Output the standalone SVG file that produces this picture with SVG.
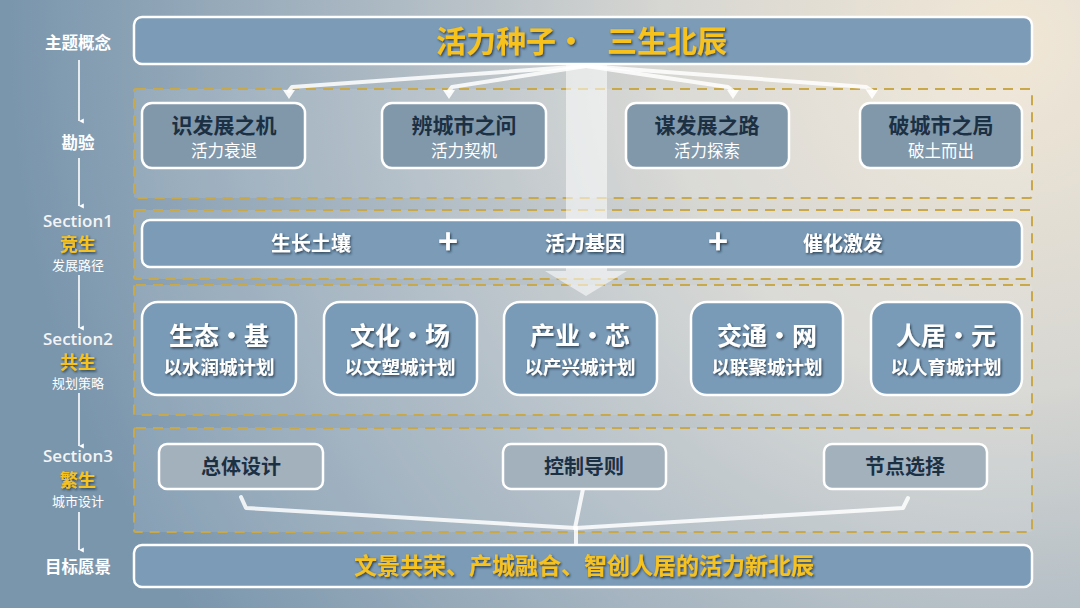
<svg xmlns="http://www.w3.org/2000/svg" width="1080" height="608" viewBox="0 0 1080 608">
<defs>
<radialGradient id="bg" cx="1010" cy="40" r="1000" gradientUnits="userSpaceOnUse">
<stop offset="0" stop-color="#f1e7d6"/>
<stop offset="0.35" stop-color="#d6d6d2"/>
<stop offset="0.65" stop-color="#a9b7c2"/>
<stop offset="1" stop-color="#7a96ad"/>
</radialGradient>
<filter id="sh" x="-10%" y="-30%" width="120%" height="160%">
<feDropShadow dx="1.2" dy="1.5" stdDeviation="0.8" flood-color="#1d2c3a" flood-opacity="0.8"/>
</filter>
<marker id="la" viewBox="0 0 10 10" refX="5" refY="10" markerWidth="6" markerHeight="6" orient="auto" markerUnits="userSpaceOnUse">
<path d="M1,2 L9,2 L5,10 z" fill="#ffffff"/>
</marker>
<style>
.cn{font-family:"Noto Sans CJK SC","Liberation Sans",sans-serif;}
.bar{fill:#7b9bb7;stroke:#ffffff;stroke-width:2.5;}
.dash{fill:#ffffff;fill-opacity:0.1;stroke:#c9a84a;stroke-width:2;stroke-dasharray:10 7;}
.n1{fill:#8198ab;stroke:#ffffff;stroke-width:2.5;}
.n2{fill:#7a9bb7;stroke:#ffffff;stroke-width:2.5;}
.n3{fill:#a3b1bd;stroke:#ffffff;stroke-width:2.5;}
.dk{fill:#1c3044;font-weight:700;}
.wt{fill:#ffffff;font-weight:700;}
.yl{fill:#f7c21c;font-weight:700;}
.sub{fill:#ffffff;font-weight:400;}
.lab{fill:#ffffff;font-weight:700;font-size:16.5px;}
.sec{fill:#f4f4f4;font-family:"Open Sans","Liberation Sans",sans-serif;font-weight:600;font-size:17px;}
.ln{fill:none;stroke:#ffffff;stroke-width:4;stroke-opacity:0.85;stroke-linejoin:round;stroke-linecap:round;}
.tip{fill:#ffffff;fill-opacity:0.9;}
.vl{fill:none;stroke:#ffffff;stroke-width:1.6;}
</style>
</defs>
<rect width="1080" height="608" fill="url(#bg)"/>

<!-- dashed section frames -->
<g id="frames">
<rect class="dash" x="134" y="89" width="898" height="109" rx="2"/>
<rect class="dash" x="134" y="210" width="898" height="69" rx="2"/>
<rect class="dash" x="134" y="285" width="898" height="130" rx="2"/>
<rect class="dash" x="134" y="428" width="898" height="104" rx="2"/>
</g>

<!-- left column -->
<g id="left-labels" class="cn" text-anchor="middle">
<text class="lab" x="78" y="49">主题概念</text>
<text class="lab" x="78" y="149">勘验</text>
<text class="sec" x="78" y="227">Section1</text>
<text class="yl" x="78" y="251" font-size="18" filter="url(#sh)">竞生</text>
<text class="sub" x="78" y="270" font-size="13">发展路径</text>
<text class="sec" x="78" y="345">Section2</text>
<text class="yl" x="78" y="369" font-size="18" filter="url(#sh)">共生</text>
<text class="sub" x="78" y="388" font-size="13">规划策略</text>
<text class="sec" x="78" y="462">Section3</text>
<text class="yl" x="78" y="487" font-size="18" filter="url(#sh)">繁生</text>
<text class="sub" x="78" y="506" font-size="13">城市设计</text>
<text class="lab" x="78" y="573">目标愿景</text>
</g>

<g id="connectors">
<!-- left column arrows -->
<line class="vl" x1="79" y1="60" x2="79" y2="121" marker-end="url(#la)"/>
<line class="vl" x1="79" y1="158" x2="79" y2="206" marker-end="url(#la)"/>
<line class="vl" x1="79" y1="275" x2="79" y2="328" marker-end="url(#la)"/>
<line class="vl" x1="79" y1="393" x2="79" y2="446" marker-end="url(#la)"/>
<line class="vl" x1="79" y1="512" x2="79" y2="550" marker-end="url(#la)"/>
<!-- big translucent arrow -->
<path d="M566,64 L607,64 L607,271 L627,271 L586,296 L545,271 L566,271 Z" fill="#ffffff" fill-opacity="0.55"/>
<!-- fan lines from title -->
<path class="ln" d="M586,66 L292,87 L289,91"/>
<polygon class="tip" points="283,90 295,90 289,99"/>
<path class="ln" d="M586,66 L452,87 L449,91"/>
<polygon class="tip" points="443,90 455,90 449,99"/>
<path class="ln" d="M586,66 L728,87 L733,91"/>
<polygon class="tip" points="727,90 739,90 733,99"/>
<path class="ln" d="M586,66 L866,87 L872,91"/>
<polygon class="tip" points="866,90 878,90 872,99"/>
<!-- converging lines to goal -->
<path class="ln" d="M241,497 L246,508 L576,528"/>
<path class="ln" d="M583,489 L575,528"/>
<path class="ln" d="M908,498 L903,508 L576,528"/>
<path class="ln" d="M576,528 L576,544"/>
</g>

<g id="title" class="cn">
<rect class="bar" x="134" y="17" width="898" height="47" rx="8"/>
<text class="yl" y="52" font-size="30" filter="url(#sh)"><tspan x="436">活力种子·</tspan><tspan x="607">三生北辰</tspan></text>
</g>

<g id="kanyan-1" class="cn" text-anchor="middle">
<rect class="n1" x="142" y="103" width="163" height="65" rx="10"/>
<text class="dk" x="224" y="133" font-size="21">识发展之机</text>
<text class="sub" x="224" y="157" font-size="16.5">活力衰退</text>
</g>
<g id="kanyan-2" class="cn" text-anchor="middle">
<rect class="n1" x="382" y="103" width="164" height="65" rx="10"/>
<text class="dk" x="464" y="133" font-size="21">辨城市之问</text>
<text class="sub" x="464" y="157" font-size="16.5">活力契机</text>
</g>
<g id="kanyan-3" class="cn" text-anchor="middle">
<rect class="n1" x="626" y="103" width="163" height="65" rx="10"/>
<text class="dk" x="707" y="133" font-size="21">谋发展之路</text>
<text class="sub" x="707" y="157" font-size="16.5">活力探索</text>
</g>
<g id="kanyan-4" class="cn" text-anchor="middle">
<rect class="n1" x="860" y="103" width="162" height="65" rx="10"/>
<text class="dk" x="941" y="133" font-size="21">破城市之局</text>
<text class="sub" x="941" y="157" font-size="16.5">破土而出</text>
</g>

<g id="section1" class="cn" text-anchor="middle">
<rect class="bar" x="142" y="220" width="880" height="47" rx="8"/>
<text class="wt" x="311" y="251" font-size="20" filter="url(#sh)">生长土壤</text>
<text class="wt" x="448" y="254" font-size="34" filter="url(#sh)">+</text>
<text class="wt" x="585" y="251" font-size="20" filter="url(#sh)">活力基因</text>
<text class="wt" x="718" y="254" font-size="34" filter="url(#sh)">+</text>
<text class="wt" x="843" y="251" font-size="20" filter="url(#sh)">催化激发</text>
</g>

<g id="s2-1" class="cn" text-anchor="middle">
<rect class="n2" x="142" y="302" width="154" height="93" rx="16"/>
<text class="wt" x="219" y="345" font-size="25" filter="url(#sh)">生态·基</text>
<text class="wt" x="219" y="374" font-size="18.5" filter="url(#sh)">以水润城计划</text>
</g>
<g id="s2-2" class="cn" text-anchor="middle">
<rect class="n2" x="324" y="302" width="153" height="93" rx="16"/>
<text class="wt" x="400" y="345" font-size="25" filter="url(#sh)">文化·场</text>
<text class="wt" x="400" y="374" font-size="18.5" filter="url(#sh)">以文塑城计划</text>
</g>
<g id="s2-3" class="cn" text-anchor="middle">
<rect class="n2" x="504" y="302" width="153" height="93" rx="16"/>
<text class="wt" x="580" y="345" font-size="25" filter="url(#sh)">产业·芯</text>
<text class="wt" x="580" y="374" font-size="18.5" filter="url(#sh)">以产兴城计划</text>
</g>
<g id="s2-4" class="cn" text-anchor="middle">
<rect class="n2" x="691" y="302" width="152" height="93" rx="16"/>
<text class="wt" x="767" y="345" font-size="25" filter="url(#sh)">交通·网</text>
<text class="wt" x="767" y="374" font-size="18.5" filter="url(#sh)">以联聚城计划</text>
</g>
<g id="s2-5" class="cn" text-anchor="middle">
<rect class="n2" x="871" y="302" width="151" height="93" rx="16"/>
<text class="wt" x="946" y="345" font-size="25" filter="url(#sh)">人居·元</text>
<text class="wt" x="946" y="374" font-size="18.5" filter="url(#sh)">以人育城计划</text>
</g>

<g id="s3-1" class="cn" text-anchor="middle">
<rect class="n3" x="159" y="444" width="164" height="45" rx="8"/>
<text class="dk" x="241" y="474" font-size="20">总体设计</text>
</g>
<g id="s3-2" class="cn" text-anchor="middle">
<rect class="n3" x="503" y="444" width="163" height="45" rx="8"/>
<text class="dk" x="584" y="474" font-size="20">控制导则</text>
</g>
<g id="s3-3" class="cn" text-anchor="middle">
<rect class="n3" x="824" y="444" width="163" height="45" rx="8"/>
<text class="dk" x="905" y="474" font-size="20">节点选择</text>
</g>

<g id="goal" class="cn" text-anchor="middle">
<rect class="bar" x="134" y="545" width="898" height="42" rx="8"/>
<text class="yl" x="584" y="574" font-size="23" filter="url(#sh)">文景共荣、产城融合、智创人居的活力新北辰</text>
</g>
</svg>
